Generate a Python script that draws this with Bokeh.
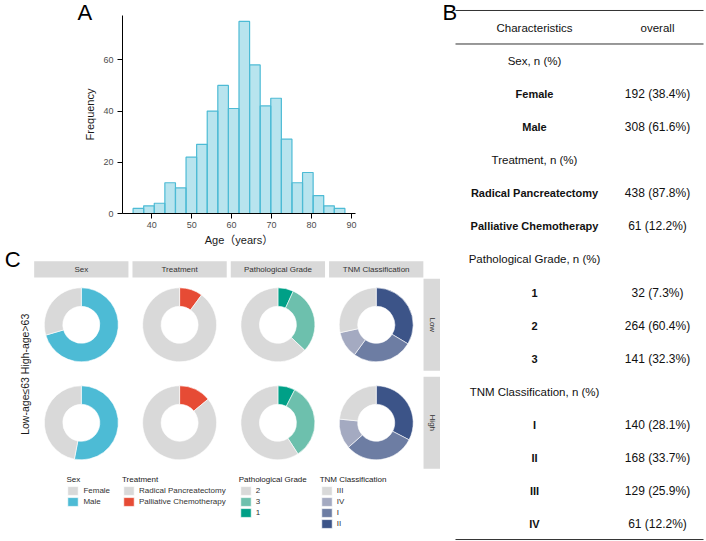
import numpy as np
from bokeh.plotting import figure
from bokeh.models import Range1d, ColumnDataSource, Label, Legend, LegendItem
from bokeh.layouts import row, column
from bokeh.embed import file_html
from bokeh.resources import INLINE
from bokeh.core.properties import value

FONT = "Liberation Sans"

# ---------------- Panel A data ----------------
bin_edges = [35.35, 38.0, 40.65, 43.3, 45.95, 48.6, 51.25, 53.9, 56.55, 59.2, 61.85,
             64.5, 67.15, 69.8, 72.45, 75.1, 77.75, 80.4, 83.05, 85.7, 88.35]
frequency = [2, 3, 4, 12, 10, 22, 27, 40, 50, 41, 75, 58, 42, 45, 29, 12, 16, 7, 3, 2]
age_ticks = [40, 50, 60, 70, 80, 90]
freq_ticks = [0, 20, 40, 60]

# ---------------- Panel B data ----------------
table_header = ["Characteristics", "overall"]
table_labels = ["Sex, n (%)", "Female", "Male", "Treatment, n (%)", "Radical Pancreatectomy",
                "Palliative Chemotherapy", "Pathological Grade, n (%)", "1", "2", "3",
                "TNM Classification, n (%)", "I", "II", "III", "IV"]
table_values = ["", "192 (38.4%)", "308 (61.6%)", "", "438 (87.8%)", "61 (12.2%)", "",
                "32 (7.3%)", "264 (60.4%)", "141 (32.3%)", "", "140 (28.1%)",
                "168 (33.7%)", "129 (25.9%)", "61 (12.2%)"]
section_rows = [0, 3, 6, 10]

# ---------------- Panel C data ----------------
facets = ["Sex", "Treatment", "Pathological Grade", "TNM Classification"]
row_strips = ["Low", "High"]
row_axis_label = "Low-age\u226463  High-age>63"
# levels in clockwise order from 12 o'clock; percentages [row Low, row High]
sex_levels = ["Male", "Female"]
sex_pct = [[70.5, 29.5], [53.0, 47.0]]
sex_colors = ["#4DBBD5", "#D9D9D9"]
treat_levels = ["Palliative Chemotherapy", "Radical Pancreatectomy"]
treat_pct = [[10.1, 89.9], [14.0, 86.0]]
treat_colors = ["#E64B35", "#D9D9D9"]
grade_levels = ["1", "3", "2"]
grade_pct = [[6.8, 30.3, 62.9], [7.5, 33.4, 59.1]]
grade_colors = ["#00A087", "#6DC0AD", "#D9D9D9"]
tnm_levels = ["II", "I", "IV", "III"]
tnm_pct = [[33.6, 26.4, 11.6, 28.4], [32.6, 30.9, 13.1, 23.4]]
tnm_colors = ["#3C5488", "#6D7DA3", "#A4AAC1", "#D9D9D9"]

# ================= Panel A: histogram =================
pa = figure(width=440, height=248, x_range=Range1d(32.7, 91.0), y_range=Range1d(0, 77.3),
            output_backend="svg", toolbar_location=None, frame_align=False,
            min_border_left=122, min_border_right=85, min_border_top=15, min_border_bottom=34)
pa.quad(left=bin_edges[:-1], right=bin_edges[1:], bottom=0, top=frequency,
        fill_color="#4DBBD5", fill_alpha=0.4, line_color="#4DBBD5", line_width=1.2)
pa.xgrid.visible = False
pa.ygrid.visible = False
pa.outline_line_color = None
pa.xaxis.ticker = age_ticks
pa.yaxis.ticker = freq_ticks
pa.xaxis.axis_label = "Age\uff08years\uff09"
pa.yaxis.axis_label = "Frequency"
for ax in (pa.xaxis, pa.yaxis):
    ax.axis_line_color = "black"
    ax.axis_line_width = 1
    ax.major_tick_line_color = "black"
    ax.major_tick_out = 5
    ax.major_tick_in = 0
    ax.minor_tick_out = 0
    ax.minor_tick_in = 0
    ax.major_label_text_font = FONT
    ax.major_label_text_font_size = "9px"
    ax.major_label_text_color = "#4D4D4D"
    ax.axis_label_text_font = FONT + ", Noto Sans CJK SC"
    ax.axis_label_text_font_size = "11px"
    ax.axis_label_text_font_style = "normal"
    ax.axis_label_text_color = "#1A1A1A"
pa.xaxis.major_label_standoff = 3
pa.xaxis.axis_label_standoff = 3
pa.yaxis.major_label_standoff = 4
pa.yaxis.axis_label_standoff = 4
pa.add_layout(Label(x=23.3, y=78.5, text="A", text_font=FONT, text_font_size="22px",
                    text_align="center", text_baseline="middle", text_color="black"), "left")

# ================= Panel B: table =================
pb = figure(width=266, height=541, x_range=Range1d(0, 266), y_range=Range1d(15.545, -0.848),
            output_backend="svg", toolbar_location=None, min_border=0, frame_align=False,
            x_axis_location=None, y_axis_location=None)
pb.xgrid.visible = False
pb.ygrid.visible = False
pb.outline_line_color = None
COL1, COL2 = 94, 217
pb.segment(x0=15, x1=263, y0=[-0.545, 0.47, 15.485], y1=[-0.545, 0.47, 15.485],
           line_color="#333333", line_width=1)
pb.text(x=[COL1, COL2], y=[0, 0], text=table_header, text_font=value(FONT),
        text_font_size="11.5px", text_align="center", text_baseline="middle", text_color="#111111")
rows_idx = list(range(1, len(table_labels) + 1))
sec = [i for i in range(len(table_labels)) if i in section_rows]
sub = [i for i in range(len(table_labels)) if i not in section_rows]
pb.text(x=[COL1] * len(sec), y=[rows_idx[i] for i in sec], text=[table_labels[i] for i in sec],
        text_font=value(FONT), text_font_size="11.5px", text_align="center",
        text_baseline="middle", text_color="#111111")
pb.text(x=[COL1] * len(sub), y=[rows_idx[i] for i in sub], text=[table_labels[i] for i in sub],
        text_font=value(FONT), text_font_size="11px", text_font_style="bold", text_align="center",
        text_baseline="middle", text_color="#111111")
pb.text(x=[COL2] * len(sub), y=[rows_idx[i] for i in sub], text=[table_values[i] for i in sub],
        text_font=value(FONT), text_font_size="12px", text_align="center",
        text_baseline="middle", text_color="#111111")
pb.add_layout(Label(x=2, y=-0.47, text="B", text_font=FONT, text_font_size="22px",
                    text_align="left", text_baseline="middle", text_color="black"))

# ================= Panel C: donuts =================
pc = figure(width=440, height=293, x_range=Range1d(-0.822, 3.654), y_range=Range1d(2.2112, -0.7786),
            output_backend="svg", toolbar_location=None, min_border=0, frame_align=False,
            x_axis_location=None, y_axis_location=None)
pc.xgrid.visible = False
pc.ygrid.visible = False
pc.outline_line_color = None

# strips
pc.rect(x=list(range(len(facets))), y=-0.566, width=0.959, height=0.166,
        fill_color="#D9D9D9", line_color=None)
pc.text(x=list(range(len(facets))), y=-0.566, text=facets, text_font=value(FONT),
        text_font_size="8px", text_align="center", text_baseline="middle", text_color="#333333")
pc.rect(x=3.568, y=list(range(len(row_strips))), width=0.173, height=0.939,
        fill_color="#D9D9D9", line_color=None)
pc.text(x=3.568, y=list(range(len(row_strips))), text=row_strips, text_font=value(FONT),
        text_font_size="8px", text_align="center", text_baseline="middle", text_color="#333333",
        angle=-np.pi / 2)
pc.add_layout(Label(x=-0.568, y=0.49, text=row_axis_label, text_font=FONT, text_font_size="10.5px",
                    text_align="center", text_baseline="middle", angle=np.pi / 2, text_color="#1A1A1A"))
pc.add_layout(Label(x=-0.78, y=-0.665, text="C", text_font=FONT, text_font_size="22px",
                    text_align="left", text_baseline="middle", text_color="black"))

groups = [
    ("Sex", sex_levels, sex_pct, sex_colors, 66.4, 34),
    ("Treatment", treat_levels, treat_pct, treat_colors, 122.0, 34),
    ("Pathological Grade", grade_levels, grade_pct, grade_colors, 238.7, 23),
    ("TNM Classification", tnm_levels, tnm_pct, tnm_colors, 319.7, 12),
]
for fi, (title, levels, pct, colors, lx, ly) in enumerate(groups):
    cum = [np.concatenate([[0], np.cumsum(p)]) for p in pct]
    items = []
    for j, lev in enumerate(levels):
        starts = [np.pi / 2 - 2 * np.pi * cum[r][j] / 100 for r in range(2)]
        ends = [np.pi / 2 - 2 * np.pi * cum[r][j + 1] / 100 for r in range(2)]
        src = ColumnDataSource(dict(x=[fi, fi], y=[0, 1], start=starts, end=ends))
        rr = pc.annular_wedge(x="x", y="y", inner_radius=18.5, outer_radius=37,
                              inner_radius_units="screen", outer_radius_units="screen",
                              start_angle="start", end_angle="end", direction="clock",
                              fill_color=colors[j], line_color="white", line_width=0.6, source=src)
        items.append(LegendItem(label=lev, renderers=[rr]))
    items = items[::-1]
    leg = Legend(items=items, location=(lx, ly), title=title,
                 title_text_font=FONT, title_text_font_size="8px", title_text_font_style="normal",
                 title_text_color="#1A1A1A", title_standoff=1,
                 label_text_font=FONT, label_text_font_size="8px", label_text_color="#333333",
                 glyph_width=13, glyph_height=11, label_height=11, label_standoff=4,
                 spacing=0, padding=0, margin=0, border_line_color=None,
                 background_fill_alpha=0, orientation="vertical")
    pc.add_layout(leg, "center")

layout = row(column(pa, pc), pb)
open("out.html", "w").write(file_html(layout, INLINE))
